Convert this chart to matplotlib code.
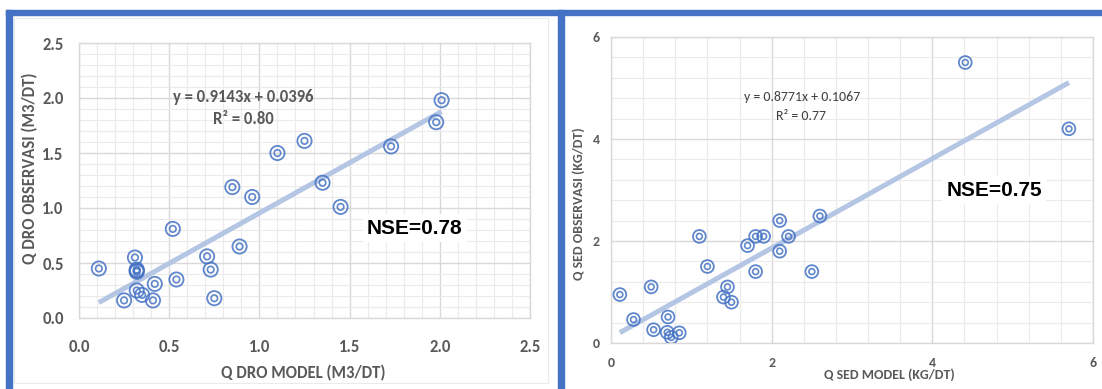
import matplotlib
matplotlib.use("Agg")

import matplotlib.pyplot as plt
from matplotlib import font_manager
from matplotlib.patches import Rectangle
from matplotlib.ticker import MultipleLocator
import numpy as np

# --- Q DRO (discharge) panel: model vs observed, m3/dt ---
dro_model = [0.11, 0.25, 0.31, 0.32, 0.32, 0.32, 0.32, 0.35, 0.41, 0.42, 0.52, 0.54,
             0.71, 0.73, 0.75, 0.85, 0.89, 0.96, 1.10, 1.25, 1.35, 1.45, 1.73, 1.98, 2.01]
dro_obs = [0.45, 0.16, 0.55, 0.44, 0.43, 0.42, 0.25, 0.21, 0.16, 0.31, 0.81, 0.35,
           0.56, 0.44, 0.18, 1.19, 0.65, 1.10, 1.50, 1.61, 1.23, 1.01, 1.56, 1.78, 1.98]
dro_slope, dro_intercept = 0.9143, 0.0396
dro_r2 = "0.80"
dro_nse = "0.78"

# --- Q SED (sediment) panel: model vs observed, kg/dt ---
sed_model = [0.11, 0.28, 0.50, 0.53, 0.71, 0.70, 0.75, 0.85, 1.10, 1.20, 1.40, 1.45,
             1.50, 1.70, 1.80, 1.80, 1.90, 2.10, 2.10, 2.21, 2.50, 2.60, 4.41, 5.70]
sed_obs = [0.95, 0.46, 1.10, 0.26, 0.51, 0.21, 0.11, 0.20, 2.09, 1.50, 0.90, 1.10,
           0.80, 1.91, 1.40, 2.09, 2.09, 2.40, 1.80, 2.09, 1.40, 2.49, 5.50, 4.20]
sed_slope, sed_intercept = 0.8771, 0.1067
sed_r2 = "0.77"
sed_nse = "0.75"

W, H = 1102, 389
BLUE = "#4472C4"
GRAY = "#595959"


def pick_font(candidates):
    names = {f.name for f in font_manager.fontManager.ttflist}
    for c in candidates:
        if c in names:
            return c
    return "DejaVu Sans"


NARROW = pick_font(["Carlito", "Liberation Sans Narrow", "Roboto Condensed",
                    "Open Sans Condensed", "Roboto", "Liberation Sans"])
ARIAL = pick_font(["Liberation Sans", "Arial", "DejaVu Sans"])


def px_box(x0, y0, x1, y1):
    # pixel box (top-left origin) -> figure fraction [left, bottom, width, height]
    return [x0 / W, 1 - y1 / H, (x1 - x0) / W, (y1 - y0) / H]


def add_px_rect(fig, box, **kw):
    l, b, w, h = px_box(*box)
    fig.add_artist(Rectangle((l, b), w, h, transform=fig.transFigure, **kw))


def style_axes(ax, xmax, ymax, major, minor, fs, xpad, ypad, fmt):
    ax.set_xlim(0, xmax)
    ax.set_ylim(0, ymax)
    ax.xaxis.set_major_locator(MultipleLocator(major))
    ax.yaxis.set_major_locator(MultipleLocator(major))
    ax.xaxis.set_minor_locator(MultipleLocator(minor))
    ax.yaxis.set_minor_locator(MultipleLocator(minor))
    ax.grid(which="major", color="#D9D9D9", linewidth=1.0, zorder=0)
    ax.grid(which="minor", color="#EBEBEB", linewidth=0.8, zorder=0)
    ax.set_axisbelow(True)
    for s in ax.spines.values():
        s.set_color("#D9D9D9")
        s.set_linewidth(1.0)
    ax.tick_params(which="both", length=0, colors=GRAY, labelsize=fs)
    ax.tick_params(axis="x", pad=xpad)
    ax.tick_params(axis="y", pad=ypad)
    ax.xaxis.set_major_formatter(fmt)
    ax.yaxis.set_major_formatter(fmt)
    for lab in ax.get_xticklabels() + ax.get_yticklabels():
        lab.set_fontfamily(NARROW)
        lab.set_fontweight("bold")


def draw_points(ax, xs, ys, outer, inner):
    ax.scatter(xs, ys, s=outer, facecolors="none", edgecolors=BLUE,
               linewidths=1.3, alpha=0.85, zorder=3)
    ax.scatter(xs, ys, s=inner, facecolors="none", edgecolors=BLUE,
               linewidths=1.2, alpha=0.85, zorder=3)


def draw_trend(ax, xs, slope, intercept):
    xline = np.array([min(xs), max(xs)])
    ax.plot(xline, slope * xline + intercept, color="#B4C6E4", linewidth=3.6,
            solid_capstyle="butt", zorder=2)


fig = plt.figure(figsize=(W / 100, H / 100), dpi=100)

# blue frame around the two panels
for box in [(6, 10, W, 15), (6, 10, 12, H), (558, 10, 564, H)]:
    add_px_rect(fig, box, color=BLUE, zorder=5)
add_px_rect(fig, (14, 18, 548, 383), facecolor="none", edgecolor="#EBEBEB",
            linewidth=0.8)

# left panel: Q DRO
ax1 = fig.add_axes(px_box(79, 43, 530, 318))
style_axes(ax1, 2.5, 2.5, 0.5, 0.1, 12, 15, 11, "{x:.1f}")
draw_trend(ax1, dro_model, dro_slope, dro_intercept)
draw_points(ax1, dro_model, dro_obs, 105, 22)
ax1.set_xlabel("Q DRO MODEL (M3/DT)", fontsize=12, fontweight="bold",
               color=GRAY, fontfamily=NARROW, va="center")
ax1.xaxis.set_label_coords(0.497, -0.2)
ax1.set_ylabel("Q DRO OBSERVASI (M3/DT)", fontsize=12, fontweight="bold",
               color=GRAY, fontfamily=NARROW, va="center")
ax1.yaxis.set_label_coords(-0.109, 0.545)
ax1.text(0.91, 2.01, f"y = {dro_slope}x + {dro_intercept}", ha="center", va="center",
         fontsize=12, fontweight="bold", color=GRAY, fontfamily=NARROW)
ax1.text(0.91, 1.81, f"R² = {dro_r2}", ha="center", va="center",
         fontsize=12, fontweight="bold", color=GRAY, fontfamily=NARROW)
ax1.text(1.862, 0.818, f"NSE={dro_nse}", ha="center", va="center", fontsize=15,
         fontweight="bold", color="black", fontfamily=ARIAL, zorder=4,
         bbox=dict(facecolor="white", edgecolor="none", pad=3))

# right panel: Q SED
ax2 = fig.add_axes(px_box(611, 37, 1093, 343))
style_axes(ax2, 6, 6, 2, 0.4, 10, 10, 8, "{x:.0f}")
draw_trend(ax2, sed_model, sed_slope, sed_intercept)
draw_points(ax2, sed_model, sed_obs, 85, 18)
ax2.set_xlabel("Q SED MODEL (KG/DT)", fontsize=10, fontweight="bold",
               color=GRAY, fontfamily=NARROW, va="center")
ax2.xaxis.set_label_coords(0.577, -0.105)
ax2.set_ylabel("Q SED OBSERVASI (KG/DT)", fontsize=10, fontweight="bold",
               color=GRAY, fontfamily=NARROW, va="center")
ax2.yaxis.set_label_coords(-0.068, 0.454)
ax2.text(2.378, 4.82, f"y = {sed_slope}x + {sed_intercept}", ha="center", va="center",
         fontsize=10, color="#404040", fontfamily=NARROW)
ax2.text(2.36, 4.45, f"R² = {sed_r2}", ha="center", va="center",
         fontsize=10, color="#404040", fontfamily=NARROW)
ax2.text(4.77, 3.0, f"NSE={sed_nse}", ha="center", va="center", fontsize=15,
         fontweight="bold", color="black", fontfamily=ARIAL, zorder=4,
         bbox=dict(facecolor="white", edgecolor="none", pad=3))

fig.savefig("out.png", dpi=100)
